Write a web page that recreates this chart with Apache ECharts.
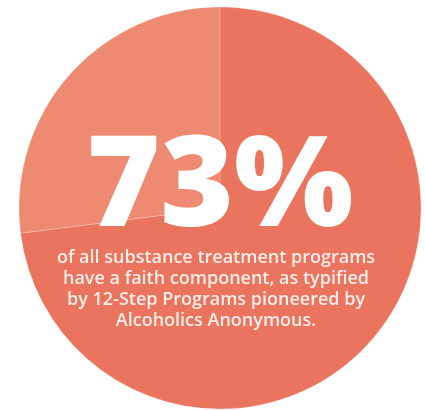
<!DOCTYPE html>
<html><head><meta charset="utf-8">
<script src="https://cdn.jsdelivr.net/npm/echarts@6/dist/echarts.min.js"></script>
<style>html,body{margin:0;padding:0;background:#fff}#c{width:425px;height:410px}</style>
</head><body><div id="c"></div>
<script>
const categories = ['With faith component', 'Without faith component'];
const values = [73, 27];
const captionLines = [
  'of all substance treatment programs',
  'have a faith component, as typified',
  'by 12-Step Programs pioneered by',
  'Alcoholics Anonymous.'
];
const colors = ['#EA745D', '#EE8A71'];

const chart = echarts.init(document.getElementById('c'), null, {renderer: 'canvas'});
chart.setOption({
  animation: false,
  series: [{
    type: 'pie',
    center: [220, 208],
    radius: 201,
    startAngle: 90,
    clockwise: true,
    label: {show: false},
    labelLine: {show: false},
    silent: true,
    itemStyle: {borderColor: 'rgba(255,255,255,0.35)', borderWidth: 0.6},
    data: categories.map((n, i) => ({name: n, value: values[i], itemStyle: {color: colors[i]}}))
  }],
  graphic: {
    elements: [
      {
        type: 'text', z: 100, x: 220, y: 127,
        style: {
          text: values[0] + '%',
          font: '800 126px "Open Sans"',
          fill: '#ffffff',
          align: 'center',
          verticalAlign: 'top'
        }
      },
      {
        type: 'text', z: 100, x: 216, y: 248,
        style: {
          text: captionLines.join('\n'),
          font: '600 18px "Open Sans"',
          lineHeight: 20.7,
          fill: 'rgba(255,255,255,0.88)',
          align: 'center',
          verticalAlign: 'top'
        }
      }
    ]
  }
});
</script></body></html>
